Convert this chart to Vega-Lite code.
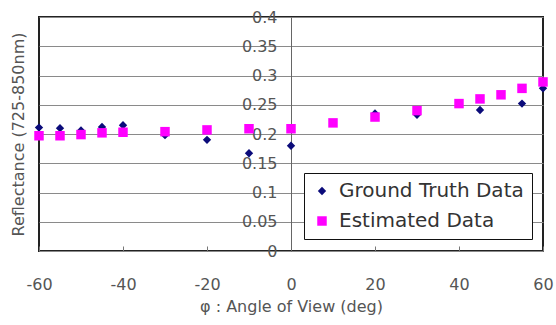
{
  "$schema": "https://vega.github.io/schema/vega-lite/v6.json",
  "autosize": "none",
  "width": 504,
  "height": 234,
  "padding": {"left": 39, "top": 17, "right": 13, "bottom": 74},
  "background": "white",
  "config": {
    "view": {"stroke": "#222222", "strokeWidth": 2},
    "font": "DejaVu Sans"
  },
  "data": {
    "values": [
      {"angle": -60, "reflectance": 0.211, "series": "Ground Truth Data"},
      {"angle": -55, "reflectance": 0.210, "series": "Ground Truth Data"},
      {"angle": -50, "reflectance": 0.206, "series": "Ground Truth Data"},
      {"angle": -45, "reflectance": 0.212, "series": "Ground Truth Data"},
      {"angle": -40, "reflectance": 0.215, "series": "Ground Truth Data"},
      {"angle": -30, "reflectance": 0.198, "series": "Ground Truth Data"},
      {"angle": -20, "reflectance": 0.190, "series": "Ground Truth Data"},
      {"angle": -10, "reflectance": 0.167, "series": "Ground Truth Data"},
      {"angle": 0, "reflectance": 0.180, "series": "Ground Truth Data"},
      {"angle": 20, "reflectance": 0.235, "series": "Ground Truth Data"},
      {"angle": 30, "reflectance": 0.233, "series": "Ground Truth Data"},
      {"angle": 45, "reflectance": 0.241, "series": "Ground Truth Data"},
      {"angle": 55, "reflectance": 0.252, "series": "Ground Truth Data"},
      {"angle": 60, "reflectance": 0.278, "series": "Ground Truth Data"},
      {"angle": -60, "reflectance": 0.197, "series": "Estimated Data"},
      {"angle": -55, "reflectance": 0.197, "series": "Estimated Data"},
      {"angle": -50, "reflectance": 0.199, "series": "Estimated Data"},
      {"angle": -45, "reflectance": 0.202, "series": "Estimated Data"},
      {"angle": -40, "reflectance": 0.203, "series": "Estimated Data"},
      {"angle": -30, "reflectance": 0.204, "series": "Estimated Data"},
      {"angle": -20, "reflectance": 0.207, "series": "Estimated Data"},
      {"angle": -10, "reflectance": 0.209, "series": "Estimated Data"},
      {"angle": 0, "reflectance": 0.209, "series": "Estimated Data"},
      {"angle": 10, "reflectance": 0.219, "series": "Estimated Data"},
      {"angle": 20, "reflectance": 0.229, "series": "Estimated Data"},
      {"angle": 30, "reflectance": 0.240, "series": "Estimated Data"},
      {"angle": 40, "reflectance": 0.252, "series": "Estimated Data"},
      {"angle": 45, "reflectance": 0.260, "series": "Estimated Data"},
      {"angle": 50, "reflectance": 0.267, "series": "Estimated Data"},
      {"angle": 55, "reflectance": 0.278, "series": "Estimated Data"},
      {"angle": 60, "reflectance": 0.289, "series": "Estimated Data"}
    ]
  },
  "mark": {"type": "point", "filled": true, "opacity": 1, "clip": false},
  "encoding": {
    "x": {
      "field": "angle",
      "type": "quantitative",
      "scale": {"domain": [-60, 60], "nice": false, "zero": false, "padding": 0},
      "axis": {
        "title": "φ : Angle of View (deg)",
        "values": [-60, -40, -20, 0, 20, 40, 60],
        "labelExpr": "replace(datum.label, '−', '-')",
        "labelFlush": false,
        "grid": false,
        "domain": false,
        "ticks": true,
        "tickSize": -5,
        "tickColor": "#777777",
        "labelPadding": 30,
        "labelFontSize": 16,
        "labelColor": "#555555",
        "labelFont": "DejaVu Sans",
        "titleFontSize": 16,
        "titleFontWeight": "normal",
        "titleColor": "#555555",
        "titleFont": "DejaVu Sans",
        "titleX": 252,
        "titleY": 55,
        "titleAlign": "center",
        "titleBaseline": "middle"
      }
    },
    "y": {
      "field": "reflectance",
      "type": "quantitative",
      "scale": {"domain": [0, 0.4], "nice": false, "padding": 0},
      "axis": {
        "title": "Reflectance (725-850nm)",
        "values": [0, 0.05, 0.1, 0.15, 0.2, 0.25, 0.3, 0.35, 0.4],
        "format": ".2~f",
        "offset": -252,
        "labelFlush": false,
        "grid": true,
        "gridColor": "#8a8a8a",
        "gridWidth": 1,
        "gridOpacity": 1,
        "domain": true,
        "domainColor": "#666666",
        "domainWidth": 1,
        "ticks": false,
        "labelPadding": 14,
        "labelFontSize": 16,
        "labelColor": "#555555",
        "labelFont": "DejaVu Sans",
        "titleFontSize": 16,
        "titleFontWeight": "normal",
        "titleColor": "#555555",
        "titleFont": "DejaVu Sans",
        "titleX": -273,
        "titleY": 117,
        "titleAngle": 270,
        "titleAlign": "center",
        "titleBaseline": "middle"
      }
    },
    "color": {
      "field": "series",
      "type": "nominal",
      "scale": {"domain": ["Ground Truth Data", "Estimated Data"], "range": ["#0b0b7a", "#ff00ff"]},
      "legend": {
        "title": null,
        "orient": "none",
        "legendX": 265,
        "legendY": 156,
        "fillColor": "white",
        "strokeColor": "#111111",
        "padding": 8,
        "labelFontSize": 20,
        "labelColor": "#333333",
        "labelFont": "DejaVu Sans",
        "symbolSize": 50,
        "rowPadding": 10,
        "labelOffset": 7,
        "labelLimit": 300,
        "encode": {"legend": {"update": {"strokeWidth": {"value": 2}}}}
      }
    },
    "shape": {
      "field": "series",
      "type": "nominal",
      "scale": {"domain": ["Ground Truth Data", "Estimated Data"], "range": ["diamond", "square"]},
      "legend": null
    },
    "size": {
      "field": "series",
      "type": "nominal",
      "scale": {"domain": ["Ground Truth Data", "Estimated Data"], "range": [70, 90]},
      "legend": null
    }
  }
}
